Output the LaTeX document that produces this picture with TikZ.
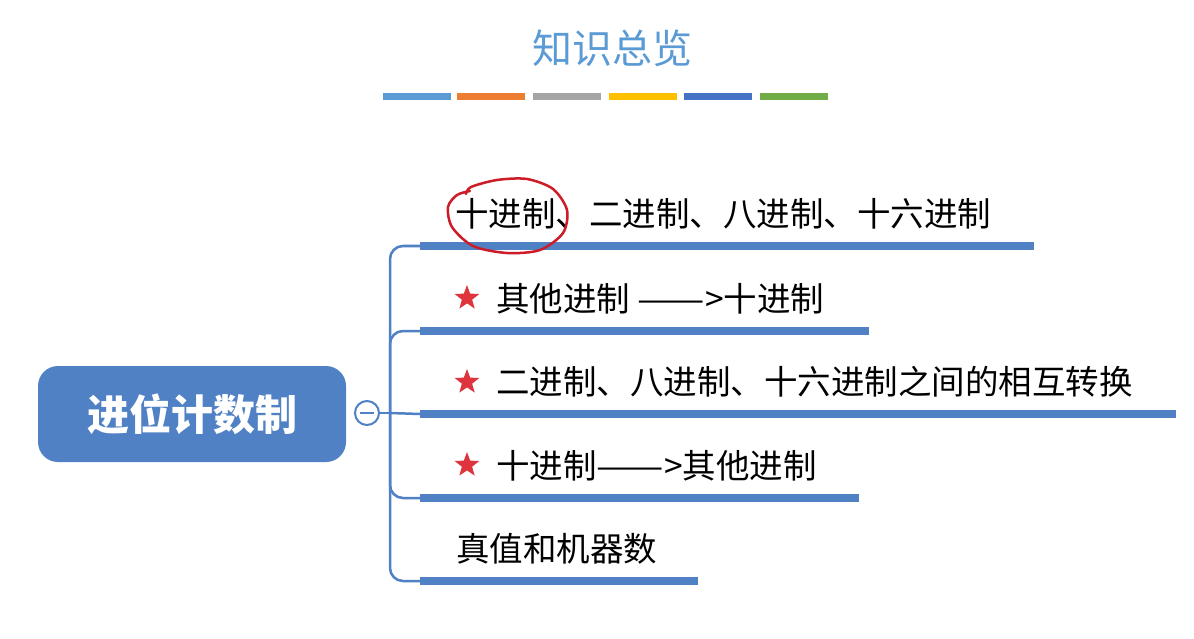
\documentclass[tikz,border=0pt]{standalone}
\usepackage{fontspec}
\newfontfamily\cjk{Noto Sans CJK SC}
\usetikzlibrary{shapes.geometric}
\definecolor{mblue}{RGB}{79,129,196}
\definecolor{tblue}{RGB}{91,155,213}
\definecolor{cbA}{RGB}{91,155,213}
\definecolor{cbB}{RGB}{237,125,49}
\definecolor{cbC}{RGB}{165,165,165}
\definecolor{cbD}{RGB}{255,192,0}
\definecolor{cbE}{RGB}{68,114,196}
\definecolor{cbF}{RGB}{112,173,71}
\definecolor{starred}{RGB}{222,52,62}
\definecolor{penred}{RGB}{205,28,40}
\newcommand{\longdash}{\scalebox{1.2}[1]{——}}
\begin{document}
\begin{tikzpicture}[x=1pt,y=-1pt,
  cbar/.style={rectangle,inner sep=0pt,minimum width=68pt,minimum height=7pt,anchor=west},
  ubar/.style={rectangle,fill=mblue,inner sep=0pt,minimum height=8pt,anchor=west},
  item/.style={anchor=west,inner sep=0pt,font=\cjk\fontsize{33.5}{36}\selectfont,text=black},
  conn/.style={draw=mblue,line width=2.5pt,rounded corners=13pt},
  stariconstyle/.style={star,star points=5,star point ratio=2.4,fill=starred,inner sep=0pt,minimum size=26pt}
]
\useasboundingbox (0,0) rectangle (1194,639);
\fill[white] (0,0) rectangle (1194,639);
% title
\node[font=\cjk\fontsize{40}{44}\selectfont,text=tblue] (title) at (612,48) {知识总览};
\node[cbar,fill=cbA] (c1) at (383,97) {};
\node[cbar,fill=cbB] (c2) at (457,97) {};
\node[cbar,fill=cbC] (c3) at (533,97) {};
\node[cbar,fill=cbD] (c4) at (609,97) {};
\node[cbar,fill=cbE] (c5) at (684,97) {};
\node[cbar,fill=cbF] (c6) at (760,97) {};
% root
\node[rectangle,rounded corners=20pt,fill=mblue,minimum width=308pt,minimum height=96pt,
  text=white,font=\cjk\bfseries\fontsize{42}{46}\selectfont] (root) at (192,414) {进位计数制};
\node[circle,draw=mblue,line width=2pt,fill=white,minimum size=24pt,inner sep=0pt] (minus) at (367,413) {};
\draw[mblue,line width=2.5pt] (360,413) -- (374,413);
\coordinate (hub) at (390,413);
\draw[mblue,line width=2.5pt] (minus.east) -- (hub);
% bars
\node[ubar,minimum width=614pt] (b1) at (420,246) {};
\node[ubar,minimum width=449pt] (b2) at (420,331) {};
\node[ubar,minimum width=756pt] (b3) at (420,414) {};
\node[ubar,minimum width=439pt] (b4) at (420,498) {};
\node[ubar,minimum width=278pt] (b5) at (420,581) {};
\draw[conn] (hub) |- (b1.west);
\draw[conn] (hub) |- (b2.west);
\draw[conn] (hub) -- (b3.west);
\draw[conn] (hub) |- (b4.west);
\draw[conn] (hub) |- (b5.west);
% texts
\node[item] (t1) at (455,214) {十进制、二进制、八进制、十六进制};
\node[stariconstyle] (s2) at (467,298) {};
\node[item] (t2) at (496,299) {其他进制 \longdash>十进制};
\node[stariconstyle] (s3) at (467,382) {};
\node[item] (t3) at (496,382) {二进制、八进制、十六进制之间的相互转换};
\node[stariconstyle] (s4) at (467,465) {};
\node[item] (t4) at (496,466) {十进制\longdash>其他进制};
\node[item] (t5) at (456,549) {真值和机器数};
% hand-drawn red circle
\draw[penred,line width=2.5pt,line cap=round,line join=round]
  plot[smooth] coordinates {(466,194) (471,187) (497,180) (527,179) (553,189) (567,210) (563,233) (540,250) (507,253) (473,246) (452,227) (448,207) (457,195) (470,191)};
\end{tikzpicture}
\end{document}
